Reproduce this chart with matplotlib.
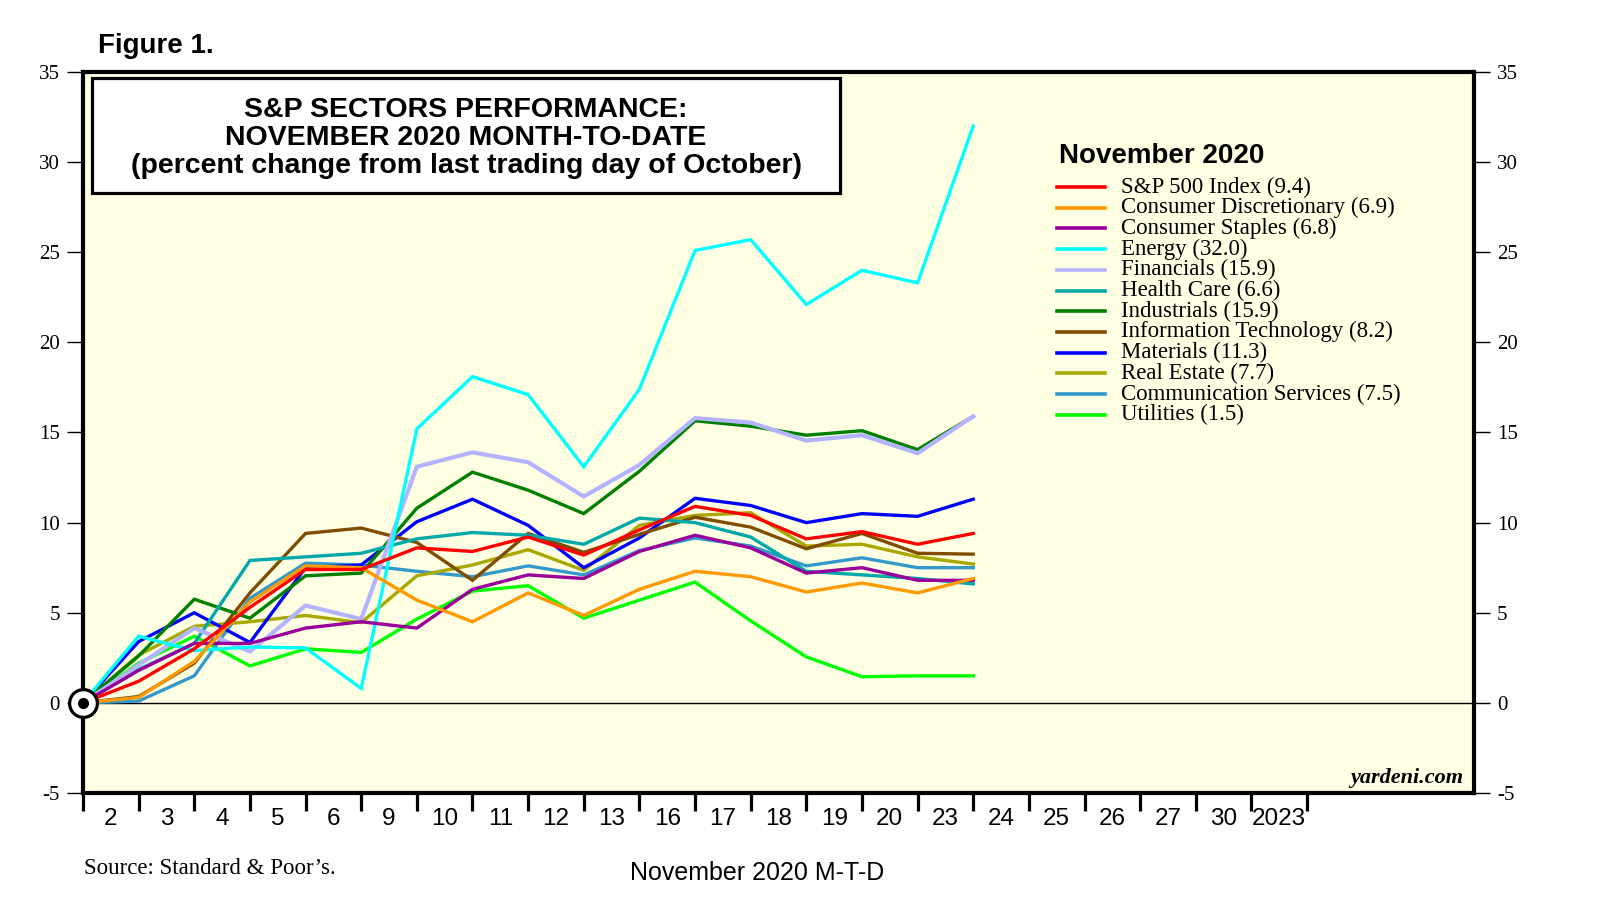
import matplotlib
matplotlib.use("Agg")
import matplotlib.pyplot as plt
from matplotlib.patches import Rectangle

# trading days of November 2020 (x labels), data starts at 0 on Oct 30
days = ["2", "3", "4", "5", "6", "9", "10", "11", "12", "13", "16", "17",
        "18", "19", "20", "23", "24", "25", "26", "27", "30", "2023"]

sp500 = [0, 1.2, 3.0, 5.3, 7.4, 7.4, 8.6, 8.4, 9.2, 8.2, 9.6, 10.9, 10.4, 9.1, 9.5, 8.8, 9.4]
cons_disc = [0, 0.3, 2.3, 5.6, 7.6, 7.5, 5.7, 4.5, 6.1, 4.85, 6.3, 7.3, 7.0, 6.15, 6.65, 6.1, 6.9]
cons_stap = [0, 1.8, 3.3, 3.3, 4.15, 4.5, 4.15, 6.3, 7.1, 6.9, 8.4, 9.3, 8.6, 7.2, 7.5, 6.8, 6.8]
energy = [0, 3.7, 2.9, 3.1, 3.05, 0.8, 15.2, 18.1, 17.1, 13.1, 17.4, 25.1, 25.7, 22.1, 24.0, 23.3, 32.0]
financials = [0, 2.1, 4.15, 2.85, 5.4, 4.65, 13.1, 13.9, 13.35, 11.45, 13.2, 15.8, 15.55, 14.55, 14.85, 13.85, 15.9]
health = [0, 1.85, 3.3, 7.9, 8.1, 8.3, 9.1, 9.45, 9.3, 8.8, 10.25, 10.0, 9.2, 7.3, 7.1, 6.9, 6.6]
industrials = [0, 2.6, 5.75, 4.7, 7.05, 7.2, 10.8, 12.8, 11.8, 10.5, 12.85, 15.65, 15.35, 14.85, 15.1, 14.05, 15.9]
info_tech = [0, 0.35, 2.2, 6.1, 9.4, 9.7, 8.9, 6.8, 9.4, 8.35, 9.35, 10.3, 9.75, 8.55, 9.4, 8.3, 8.25]
materials = [0, 3.4, 5.0, 3.35, 7.5, 7.65, 10.05, 11.3, 9.85, 7.5, 9.15, 11.35, 10.95, 10.0, 10.5, 10.35, 11.3]
real_estate = [0, 2.65, 4.25, 4.5, 4.85, 4.45, 7.05, 7.65, 8.5, 7.35, 9.85, 10.4, 10.55, 8.7, 8.8, 8.1, 7.7]
comm_serv = [0, 0.1, 1.5, 5.8, 7.75, 7.65, 7.3, 7.0, 7.6, 7.1, 8.45, 9.15, 8.7, 7.6, 8.05, 7.5, 7.5]
utilities = [0, 2.2, 3.7, 2.05, 3.0, 2.8, 4.65, 6.2, 6.5, 4.7, 5.7, 6.7, 4.55, 2.55, 1.45, 1.5, 1.5]

labels = ["S&P 500 Index (9.4)", "Consumer Discretionary (6.9)", "Consumer Staples (6.8)",
          "Energy (32.0)", "Financials (15.9)", "Health Care (6.6)", "Industrials (15.9)",
          "Information Technology (8.2)", "Materials (11.3)", "Real Estate (7.7)",
          "Communication Services (7.5)", "Utilities (1.5)"]
series = [sp500, cons_disc, cons_stap, energy, financials, health, industrials,
          info_tech, materials, real_estate, comm_serv, utilities]
colors = ["#FF0000", "#FF9900", "#990099", "#00FFFF", "#B3B3FF", "#00A8A8",
          "#007F00", "#7F4C00", "#0000FF", "#A8A800", "#3399CC", "#00FF00"]

SANS = ["Liberation Sans", "DejaVu Sans"]
SERIF = ["Liberation Serif", "DejaVu Serif"]

W, H = 1610, 918
fig = plt.figure(figsize=(W / 100, H / 100), dpi=100)


def fx(x):
    return x / W


def fy(y):
    return 1 - y / H


ax = fig.add_axes([fx(83), fy(793), (1474 - 83) / W, (793 - 72) / H])
ax.set_facecolor("#FFFFE3")
ax.set_xlim(0, 25)
ax.set_ylim(-5, 35)

ax.axhline(0, color="black", lw=1, zorder=1)

# draw in reverse so S&P ends up on top
for vals, col in reversed(list(zip(series, colors))):
    lw = 3.0 if col == "#B3B3FF" else 2.4
    ax.plot(range(len(vals)), vals, color=col, lw=lw, solid_joinstyle="miter", zorder=2)

# origin marker
ax.plot([0], [0], marker="o", ms=20, mfc="white", mec="black", mew=2.3, clip_on=False, zorder=6)
ax.plot([0], [0], marker="o", ms=7, mfc="black", mec="black", clip_on=False, zorder=7)

for s in ax.spines.values():
    s.set_linewidth(3)

# x axis: ticks at boundaries, labels in between
ax.set_xticks(range(len(days) + 1))
ax.set_xticklabels([])
ax.set_xticks([i + 0.5 for i in range(len(days))], minor=True)
ax.set_xticklabels(days, minor=True, fontsize=17.5, family=SANS)
ax.tick_params(axis="x", which="major", direction="out", length=13, width=2.3)
ax.tick_params(axis="x", which="minor", length=0, pad=10.5)

yt = list(range(-5, 36, 5))
ax.set_yticks(yt)
ax.set_yticklabels([str(v) for v in yt], fontsize=15, family=SERIF)
ax.tick_params(axis="y", which="both", direction="out", length=11.5, width=1,
               left=True, right=True, labelleft=True, labelright=True, pad=5)

# title box
ax.add_patch(Rectangle((fx(92), fy(193)), fx(840) - fx(92), fy(78) - fy(193),
                       transform=fig.transFigure, facecolor="white", edgecolor="black",
                       lw=2.3, zorder=10, clip_on=False))
title_lines = ["S&P SECTORS PERFORMANCE:", "NOVEMBER 2020 MONTH-TO-DATE",
               "(percent change from last trading day of October)"]
for t, yy in zip(title_lines, [110, 138, 166]):
    fig.text(fx(466), fy(yy), t, ha="center", va="center", fontsize=20.5,
             fontweight="bold", family=SANS, zorder=11)

# legend drawn by hand
fig.text(fx(1059), fy(156), "November 2020", ha="left", va="center", fontsize=20,
         fontweight="bold", family=SANS)
for k, (lab, col) in enumerate(zip(labels, colors)):
    yy = fy(187 + k * 20.7)
    fig.add_artist(plt.Line2D([fx(1057), fx(1105)], [yy, yy], color=col, lw=2.6))
    fig.text(fx(1121), yy, lab, ha="left", va="center", fontsize=16.5, family=SERIF)

fig.text(fx(1463), fy(783), "yardeni.com", ha="right", va="baseline", fontsize=16,
         fontweight="bold", fontstyle="italic", family=SERIF)
fig.text(fx(98), fy(46), "Figure 1.", ha="left", va="center", fontsize=20,
         fontweight="bold", family=SANS)
fig.text(fx(84), fy(869), "Source: Standard & Poor\u2019s.", ha="left", va="center",
         fontsize=16.5, family=SERIF)
fig.text(fx(757), fy(873), "November 2020 M-T-D", ha="center", va="center",
         fontsize=18, family=SANS)

fig.savefig("out.png", dpi=100, facecolor="white")
